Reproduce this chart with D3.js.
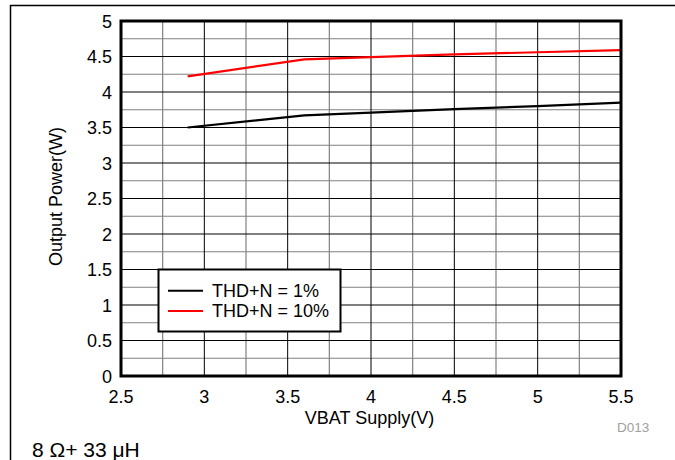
<!DOCTYPE html>
<html><head><meta charset="utf-8">
<script src="https://cdn.jsdelivr.net/npm/d3@7"></script>
<style>body{margin:0;background:#fff}svg{display:block;font-family:"Liberation Sans",Arial,sans-serif}</style>
</head><body><svg id="c" width="675" height="460"></svg>
<script>
const xTicks = [2.5, 3, 3.5, 4, 4.5, 5, 5.5];
const yTicks = [0, 0.5, 1, 1.5, 2, 2.5, 3, 3.5, 4, 4.5, 5];
const vbat = [2.9, 3.6, 4.0, 4.5, 5.0, 5.5];
const thd1 = [3.50, 3.67, 3.71, 3.76, 3.80, 3.85];
const thd10 = [4.22, 4.46, 4.49, 4.53, 4.56, 4.59];
const seriesNames = ["THD+N = 1%", "THD+N = 10%"];
const seriesColors = ["#000000", "#ff0000"];

const svg = d3.select("#c");
const L = 121, R = 621, T = 21, B = 376;
const x = d3.scaleLinear().domain([2.5, 5.5]).range([L, R]);
const y = d3.scaleLinear().domain([0, 5]).range([B, T]);

// outer frame (left & top only visible)
svg.append("path").attr("d", "M10.5,460 V5.5 H675").attr("fill", "none").attr("stroke", "#000").attr("stroke-width", 1.5);

// grid
const minorX = d3.range(2.75, 5.5, 0.5);
const minorY = d3.range(0.25, 5, 0.5);
const g = svg.append("g");
g.selectAll(".mx").data(minorX).join("line").attr("x1", d => x(d)).attr("x2", d => x(d)).attr("y1", T).attr("y2", B).attr("stroke", "#808080").attr("stroke-width", 1.2);
g.selectAll(".my").data(minorY).join("line").attr("y1", d => y(d)).attr("y2", d => y(d)).attr("x1", L).attr("x2", R).attr("stroke", "#808080").attr("stroke-width", 1.2);
g.selectAll(".Mx").data(xTicks.slice(1, -1)).join("line").attr("x1", d => x(d)).attr("x2", d => x(d)).attr("y1", T).attr("y2", B).attr("stroke", "#000").attr("stroke-width", 1);
g.selectAll(".My").data(yTicks.slice(1, -1)).join("line").attr("y1", d => y(d)).attr("y2", d => y(d)).attr("x1", L).attr("x2", R).attr("stroke", "#000").attr("stroke-width", 1);

// series
const line = d3.line().x(d => x(d[0])).y(d => y(d[1]));
[thd1, thd10].forEach((s, i) => {
  svg.append("path").datum(vbat.map((v, j) => [v, s[j]])).attr("d", line)
    .attr("fill", "none").attr("stroke", seriesColors[i]).attr("stroke-width", 2.2);
});

// plot frame
svg.append("rect").attr("x", L).attr("y", T).attr("width", R - L).attr("height", B - T)
  .attr("fill", "none").attr("stroke", "#000").attr("stroke-width", 3);

// axes labels
const fmt = d => String(d);
svg.selectAll(".yl").data(yTicks).join("text").attr("x", 112).attr("y", d => y(d) + 6.5)
  .attr("text-anchor", "end").attr("font-size", 18).text(fmt);
svg.selectAll(".xl").data(xTicks).join("text").attr("x", d => x(d)).attr("y", 403)
  .attr("text-anchor", "middle").attr("font-size", 18).text(fmt);

svg.append("text").attr("x", 369.5).attr("y", 424).attr("text-anchor", "middle").attr("font-size", 18).text("VBAT Supply(V)");
svg.append("text").attr("transform", "translate(61.5,196.5) rotate(-90)").attr("text-anchor", "middle").attr("font-size", 18).text("Output Power(W)");
svg.append("text").attr("x", 617).attr("y", 431.5).attr("font-size", 13.5).attr("fill", "#a0a0a0").text("D013");
svg.append("text").attr("x", 32).attr("y", 456.5).attr("font-size", 21).text("8 Ω+ 33 μH");

// legend
const lg = svg.append("g");
lg.append("rect").attr("x", 158.5).attr("y", 269.5).attr("width", 182).attr("height", 62).attr("fill", "#fff").attr("stroke", "#000").attr("stroke-width", 2);
seriesNames.forEach((n, i) => {
  const yy = 290.7 + i * 20.4;
  lg.append("line").attr("x1", 168).attr("x2", 203).attr("y1", yy).attr("y2", yy).attr("stroke", seriesColors[i]).attr("stroke-width", 2);
  lg.append("text").attr("x", 212).attr("y", yy + 6.2).attr("font-size", 18).text(n);
});
</script></body></html>
